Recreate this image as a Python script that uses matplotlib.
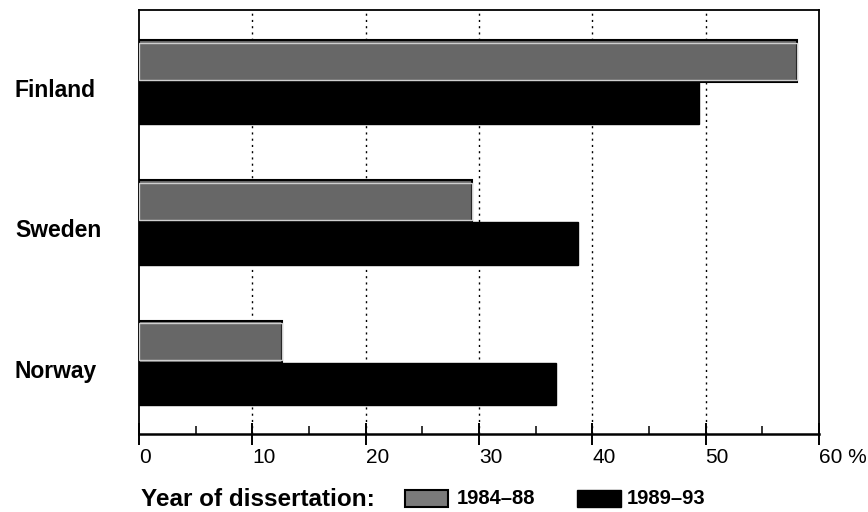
import matplotlib
matplotlib.use("Agg")
import matplotlib.pyplot as plt
from matplotlib.patches import Rectangle
from matplotlib.ticker import MultipleLocator

plt.rcParams['font.family'] = ['Liberation Sans', 'DejaVu Sans']

countries = ["Finland", "Sweden", "Norway"]
period_labels = ["1984\u201388", "1989\u201393"]
share_1984_88 = [58.1, 29.4, 12.6]
share_1989_93 = [49.4, 38.7, 36.8]
xticks = [0, 10, 20, 30, 40, 50, 60]
xtick_labels = ["0", "10", "20", "30", "40", "50", "60 %"]

fig = plt.figure(figsize=(8.68, 5.12), dpi=100)
ax = fig.add_axes([0.160, 0.152, 0.7835, 0.828])

h = 0.3
pos = list(range(len(countries)))
ax.barh([p - h / 2 for p in pos], share_1984_88, height=h,
        color="#676767", edgecolor="black", linewidth=1.5, zorder=3)
ax.barh([p - h / 2 for p in pos], share_1984_88, height=h * 0.88,
        color="none", edgecolor="#d0d0d0", linewidth=1.0, zorder=4)
ax.barh([p + h / 2 for p in pos], share_1989_93, height=h,
        color="black", edgecolor="black", linewidth=1, zorder=3)

ax.set_xlim(0, 60)
ax.set_ylim(2.51, -0.514)
ax.set_xticks(xticks)
ax.set_xticklabels(xtick_labels, fontsize=15)
ax.xaxis.set_minor_locator(MultipleLocator(5))
ax.tick_params(axis="x", which="major", direction="inout", length=16, width=1.4, pad=2)
ax.tick_params(axis="x", which="minor", direction="in", length=6, width=1.1)
ax.set_yticks([])
for lab in ax.get_xticklabels():
    lab.set_horizontalalignment("left")
for v in xticks[1:-1]:
    ax.axvline(v, color="black", linestyle=(0, (1.5, 3)), linewidth=1.0, zorder=1)
for s in ax.spines.values():
    s.set_linewidth(1.3)
ax.spines["bottom"].set_linewidth(1.8)

# country names at left
for p, name in zip(pos, countries):
    y = ax.transData.transform((0, p + 0.06))[1]
    fig.text(15 / 868, y / 512, name, fontsize=16.5, fontweight="bold",
             ha="left", va="center")

# legend row
fig.text(141 / 868, 13 / 512, "Year of dissertation:", fontsize=17.5,
         fontweight="bold", ha="left", va="center")
fig.patches.append(Rectangle((405 / 868, 5 / 512), 43 / 868, 17 / 512,
                             transform=fig.transFigure, facecolor="#7a7a7a",
                             edgecolor="black", linewidth=1.5))
fig.text(457 / 868, 13 / 512, period_labels[0], fontsize=14.5,
         fontweight="bold", ha="left", va="center")
fig.patches.append(Rectangle((577 / 868, 5 / 512), 44 / 868, 17 / 512,
                             transform=fig.transFigure, facecolor="black",
                             edgecolor="black", linewidth=1))
fig.text(627 / 868, 13 / 512, period_labels[1], fontsize=14.5,
         fontweight="bold", ha="left", va="center")

fig.savefig("out.png", dpi=100)
